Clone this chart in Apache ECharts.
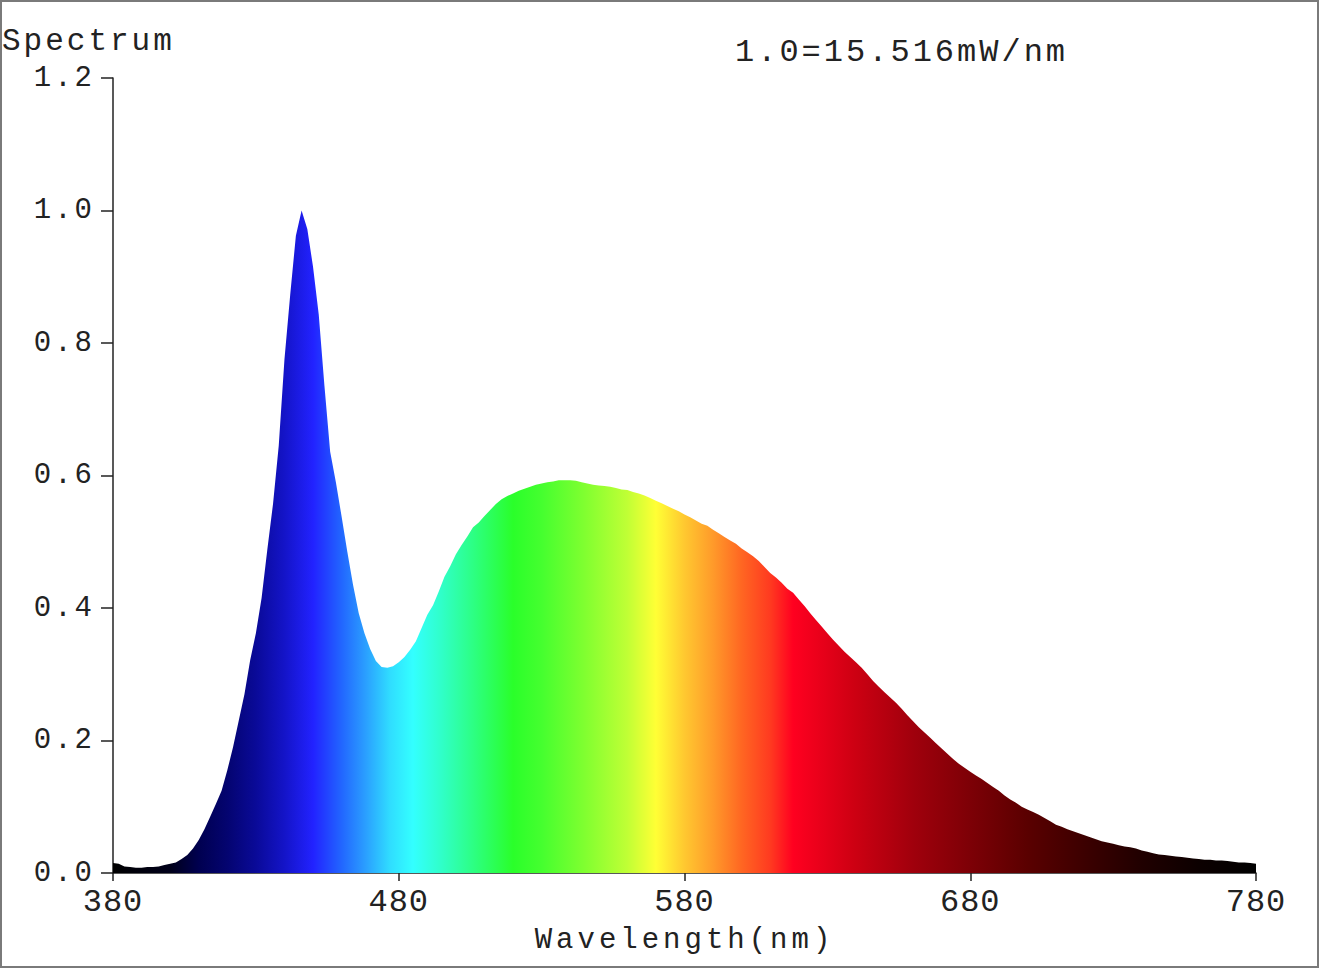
<!DOCTYPE html>
<html>
<head>
<meta charset="utf-8">
<script src="https://cdn.jsdelivr.net/npm/echarts@6/dist/echarts.min.js"></script>
<style>
  html, body { margin: 0; padding: 0; background: #fff; }
  #chart { width: 1319px; height: 968px; }
</style>
</head>
<body>
<div id="chart"></div>
<script>
// wavelength grid (nm): 380..780 every 2 nm
const wavelengthStart = 380;
const wavelengthStep = 2;

// relative spectral power (1.0 = 15.516 mW/nm)
const relativePower = [
  0.015, 0.014, 0.010, 0.009, 0.008, 0.008, 0.009, 0.009, 0.010, 0.012, // 380-398
  0.014, 0.016, 0.021, 0.027, 0.037, 0.050, 0.066, 0.085, 0.104, 0.124, // 400-418
  0.155, 0.190, 0.230, 0.270, 0.321, 0.362, 0.415, 0.488, 0.557, 0.645, // 420-438
  0.775, 0.872, 0.962, 1.000, 0.972, 0.915, 0.843, 0.735, 0.636, 0.590, // 440-458
  0.538, 0.485, 0.435, 0.392, 0.362, 0.338, 0.320, 0.311, 0.310, 0.312, // 460-478
  0.318, 0.326, 0.337, 0.350, 0.370, 0.390, 0.404, 0.425, 0.447, 0.463, // 480-498
  0.481, 0.495, 0.508, 0.522, 0.529, 0.539, 0.548, 0.557, 0.564, 0.569, // 500-518
  0.573, 0.577, 0.580, 0.583, 0.586, 0.588, 0.590, 0.591, 0.593, 0.593, // 520-538
  0.593, 0.592, 0.590, 0.588, 0.586, 0.585, 0.584, 0.583, 0.581, 0.579, // 540-558
  0.578, 0.575, 0.573, 0.570, 0.566, 0.562, 0.558, 0.554, 0.550, 0.546, // 560-578
  0.541, 0.537, 0.532, 0.527, 0.524, 0.518, 0.513, 0.507, 0.502, 0.497, // 580-598
  0.490, 0.484, 0.478, 0.471, 0.462, 0.453, 0.446, 0.438, 0.429, 0.423, // 600-618
  0.413, 0.403, 0.392, 0.382, 0.372, 0.362, 0.352, 0.343, 0.334, 0.326, // 620-638
  0.318, 0.310, 0.300, 0.290, 0.281, 0.273, 0.265, 0.257, 0.248, 0.238, // 640-658
  0.229, 0.220, 0.212, 0.204, 0.196, 0.188, 0.180, 0.172, 0.165, 0.159, // 660-678
  0.153, 0.147, 0.142, 0.136, 0.130, 0.124, 0.117, 0.111, 0.106, 0.100, // 680-698
  0.096, 0.092, 0.088, 0.083, 0.078, 0.073, 0.070, 0.066, 0.063, 0.060, // 700-718
  0.057, 0.054, 0.051, 0.048, 0.046, 0.044, 0.042, 0.040, 0.039, 0.037, // 720-738
  0.034, 0.032, 0.030, 0.028, 0.027, 0.026, 0.025, 0.024, 0.023, 0.022, // 740-758
  0.021, 0.020, 0.020, 0.019, 0.019, 0.018, 0.017, 0.016, 0.016, 0.015, // 760-778
  0.014                                                                  // 780
];

const xTicks = [380, 480, 580, 680, 780];
const yTicks = [0.0, 0.2, 0.4, 0.6, 0.8, 1.0, 1.2];

const yTitle = 'Spectrum';
const scaleNote = '1.0=15.516mW/nm';
const xTitle = 'Wavelength(nm)';

// rainbow fill, stop positions in nm
const rainbow = [
  [380, '#000000'], [400, '#00001a'], [410, '#000050'], [420, '#040470'],
  [430, '#0a0a98'], [440, '#1414c8'], [450, '#2222ff'], [460, '#2266ff'],
  [468, '#2a9cff'], [477, '#30ddff'], [485, '#33ffff'], [495, '#30ffc8'],
  [505, '#2dff8a'], [520, '#2aff2a'], [530, '#45ff2f'], [545, '#80ff30'],
  [560, '#c0ff35'], [570, '#ffff35'], [580, '#ffc830'], [590, '#ff9a2a'],
  [600, '#ff6622'], [610, '#ff3a20'], [618, '#ff0020'], [640, '#cc0012'],
  [660, '#a0000c'], [680, '#7d0006'], [700, '#5a0000'], [720, '#3c0000'],
  [740, '#200000'], [760, '#0c0000'], [780, '#000000']
];

const font = '"Courier New", "Liberation Mono", monospace';
const ink = '#222';

const seriesData = relativePower.map((v, i) => [wavelengthStart + i * wavelengthStep, v]);

const chart = echarts.init(document.getElementById('chart'), null, { renderer: 'svg' });

chart.setOption({
  animation: false,
  backgroundColor: '#fff',
  title: [
    {
      text: yTitle, left: 2, top: 26, padding: 0,
      textStyle: { fontFamily: font, fontSize: 31, fontWeight: 'normal', color: ink }
    },
    {
      text: scaleNote, left: 735, top: 36, padding: 0,
      textStyle: { fontFamily: font, fontSize: 32, fontWeight: 'normal', color: ink }
    }
  ],
  graphic: [
    {
      type: 'rect', silent: true, z: 100,
      shape: { x: 1, y: 1, width: 1317, height: 966 },
      style: { fill: 'none', stroke: '#7a7a7a', lineWidth: 2 }
    }
  ],
  grid: { left: 113, right: 63, top: 78, bottom: 95 },
  xAxis: {
    type: 'value',
    min: xTicks[0],
    max: xTicks[xTicks.length - 1],
    interval: xTicks[1] - xTicks[0],
    name: xTitle,
    nameLocation: 'middle',
    nameGap: 53,
    nameTextStyle: { fontFamily: font, fontSize: 29, color: ink },
    axisLine: { lineStyle: { color: ink, width: 1.5 } },
    axisTick: { show: true, length: 8, lineStyle: { color: ink, width: 1.5 } },
    axisLabel: { margin: 13, fontFamily: font, fontSize: 32, color: ink },
    splitLine: { show: false }
  },
  yAxis: {
    type: 'value',
    min: yTicks[0],
    max: yTicks[yTicks.length - 1],
    interval: yTicks[1] - yTicks[0],
    axisLine: { show: true, lineStyle: { color: ink, width: 1.5 } },
    axisTick: { show: true, length: 12, lineStyle: { color: ink, width: 1.5 } },
    axisLabel: {
      margin: 18, fontFamily: font, fontSize: 29, color: ink,
      formatter: v => v.toFixed(1)
    },
    splitLine: { show: false }
  },
  series: [
    {
      type: 'line',
      data: seriesData,
      symbol: 'none',
      lineStyle: { width: 0, opacity: 0 },
      areaStyle: {
        opacity: 1,
        color: new echarts.graphic.LinearGradient(0, 0, 1, 0,
          rainbow.map(([nm, c]) => ({ offset: (nm - 380) / 400, color: c })))
      }
    }
  ]
});

// the reference text is widely letter-spaced; apply it on the svg text nodes
function spaceLetters() {
  chart.getDom().querySelectorAll('text').forEach(t => {
    const s = t.textContent.trim();
    let ls = 0;
    if (s === yTitle) ls = 3;
    else if (s === scaleNote) ls = 3;
    else if (s === xTitle) ls = 4;
    else if (/^\d\.\d$/.test(s)) ls = 3;
    else if (/^\d{3}$/.test(s)) ls = 1;
    t.style.letterSpacing = ls + 'px';
  });
}
chart.on('finished', spaceLetters);
spaceLetters();

window.addEventListener('resize', chart.resize);
</script>
</body>
</html>
